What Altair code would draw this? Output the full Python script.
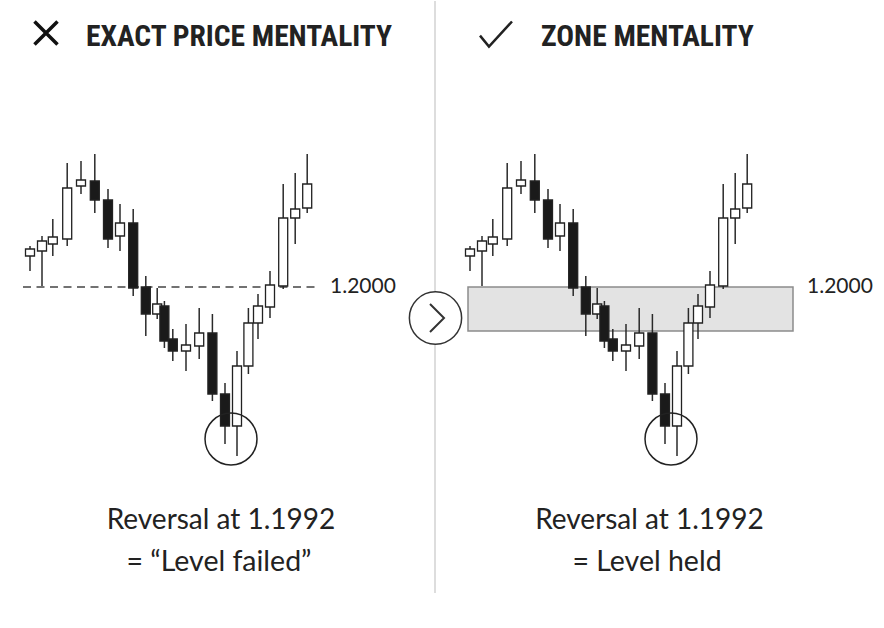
import altair as alt
import pandas as pd

# ---- data (same candles in both panels) ----
t_pos = [0, 1, 1.9, 3.1, 4.25, 5.4, 6.5, 7.5, 8.6, 9.65, 10.6, 11.2,
         11.9, 13.0, 14.1, 15.2, 16.25, 17.25, 18.2, 19.0, 20.0, 21.1, 22.1, 23.1]
open_p = [1.20031, 1.20036, 1.20043, 1.20048, 1.20101, 1.20106, 1.20087, 1.20051,
          1.20064, 1.20000, 1.19973, 1.19981, 1.19948, 1.19936, 1.19941, 1.19954,
          1.19893, 1.19861, 1.19921, 1.19964, 1.19980, 1.20001, 1.20069, 1.20079]
close_p = [1.20038, 1.20046, 1.20050, 1.20099, 1.20107, 1.20087, 1.20048, 1.20064,
           1.19999, 1.19973, 1.19983, 1.19946, 1.19936, 1.19942, 1.19954, 1.19893,
           1.19861, 1.19921, 1.19964, 1.19981, 1.20002, 1.20069, 1.20078, 1.20103]
high_p = [1.20041, 1.20051, 1.20068, 1.20124, 1.20126, 1.20133, 1.20098, 1.20083,
          1.20078, 1.20011, 1.19999, 1.19986, 1.19958, 1.19963, 1.19979, 1.19973,
          1.19904, 1.19936, 1.19979, 1.19993, 1.20016, 1.20103, 1.20114, 1.20133]
low_p = [1.20016, 1.20001, 1.20031, 1.20041, 1.20093, 1.20074, 1.20039, 1.20036,
         1.19991, 1.19951, 1.19968, 1.19939, 1.19926, 1.19916, 1.19928, 1.19886,
         1.19843, 1.19831, 1.19913, 1.19948, 1.19969, 1.19998, 1.20043, 1.20074]

level = 1.2000
zone_low = 1.19956
reversal_t = 16.75
reversal_price = 1.19848

titles = ["EXACT PRICE MENTALITY", "ZONE MENTALITY"]
notes_left = ["Reversal at 1.1992", "= \u201cLevel failed\u201d"]
notes_right = ["Reversal at 1.1992", "= Level held"]

candles = pd.DataFrame({"t": t_pos, "open": open_p, "close": close_p,
                        "high": high_p, "low": low_p})
candles["dir"] = ["up" if c >= o else "down" for o, c in zip(open_p, close_p)]

one = pd.DataFrame({"a": [0]})
H = 628
WL, WR = 435, 449
y_scale = alt.Scale(domain=[1.19658, 1.20286], nice=False, zero=False, padding=0)
xl_scale = alt.Scale(domain=[-2.5, 33.75], nice=False, zero=False, padding=0)
xr_scale = alt.Scale(domain=[-2.9167, 34.5], nice=False, zero=False, padding=0)

TITLE_FONT = "Roboto Condensed, Liberation Sans Narrow, Roboto, sans-serif"
BODY_FONT = "Lato, Open Sans, sans-serif"
INK = "#222222"


def candle_layers(xs):
    wick = alt.Chart(candles).mark_rule(color="#2a2a2a", strokeWidth=1.5).encode(
        x=alt.X("t:Q", scale=xs, axis=None),
        y=alt.Y("low:Q", scale=y_scale, axis=None),
        y2="high:Q",
    )
    body = alt.Chart(candles).mark_bar(size=9, stroke=INK, strokeWidth=1.3).encode(
        x=alt.X("t:Q", scale=xs, axis=None),
        y=alt.Y("open:Q", scale=y_scale, axis=None),
        y2="close:Q",
        fill=alt.Fill("dir:N", scale=alt.Scale(domain=["up", "down"],
                                                range=["#ffffff", "#1a1a1a"]),
                      legend=None),
    )
    ring = alt.Chart(pd.DataFrame({"t": [reversal_t], "p": [reversal_price]})).mark_point(
        shape="circle", size=2700, filled=False, stroke=INK, strokeWidth=1.5, opacity=1
    ).encode(
        x=alt.X("t:Q", scale=xs, axis=None),
        y=alt.Y("p:Q", scale=y_scale, axis=None),
    )
    return [wick, body, ring]


def text_at(txt, x, y, size, font, weight="normal", align="center", baseline="alphabetic"):
    return alt.Chart(one).mark_text(
        text=txt, font=font, fontSize=size, fontWeight=weight, color=INK,
        align=align, baseline=baseline,
    ).encode(x=alt.value(x), y=alt.value(y))


def level_label(x):
    return alt.Chart(pd.DataFrame({"p": [level]})).mark_text(
        font=BODY_FONT, fontSize=21, color=INK, align="left", baseline="middle"
    ).encode(
        x=alt.value(x),
        y=alt.Y("p:Q", scale=y_scale, axis=None),
        text=alt.Text("p:Q", format=".4f"),
    )


# ---------------- left panel ----------------
divider = alt.Chart(one).mark_rule(color="#d2d2d2", strokeWidth=1.5).encode(
    x=alt.value(435), y=alt.value(0), y2=alt.value(592))
dashed = alt.Chart(pd.DataFrame({"p": [level]})).mark_rule(
    color="#444444", strokeWidth=1.5, strokeDash=[8, 5.5]
).encode(x=alt.value(23), x2=alt.value(320),
         y=alt.Y("p:Q", scale=y_scale, axis=None))
cross = alt.Chart(one).mark_point(
    shape="M-1,-1L1,1M1,-1L-1,1", size=530, filled=False, stroke="#111111",
    strokeWidth=3.5, opacity=1).encode(x=alt.value(46), y=alt.value(32))
button = alt.Chart(one).mark_circle(
    size=2730, fill="#ffffff", stroke="#333333", strokeWidth=1.5, opacity=1
).encode(x=alt.value(435.5), y=alt.value(317))
chevron = alt.Chart(one).mark_point(
    shape="M-0.5,-1L0.5,0L-0.5,1", size=784, filled=False, stroke="#333333",
    strokeWidth=2, opacity=1).encode(x=alt.value(437), y=alt.value(317))

left = alt.layer(
    divider, dashed, level_label(330),
    *candle_layers(xl_scale),
    cross,
    text_at(titles[0], 86, 45, 29.5, TITLE_FONT, "bold", align="left"),
    text_at(notes_left[0], 221, 520, 28, BODY_FONT, baseline="middle"),
    text_at(notes_left[1], 219, 561, 28.5, BODY_FONT, baseline="middle"),
    button, chevron,
).properties(width=WL, height=H)

# ---------------- right panel ----------------
zone = alt.Chart(pd.DataFrame({"top": [level], "bot": [zone_low]})).mark_rect(
    fill="#e3e3e3", stroke="#8c8c8c", strokeWidth=1.5
).encode(x=alt.value(33), x2=alt.value(358),
         y=alt.Y("top:Q", scale=y_scale, axis=None), y2="bot:Q")
check = alt.Chart(one).mark_point(
    shape="M-1,0.1L-0.44,0.78L1,-0.78", size=1024, filled=False, stroke="#222222",
    strokeWidth=2.5, opacity=1).encode(x=alt.value(61), y=alt.value(33))

right = alt.layer(
    zone, level_label(372),
    *candle_layers(xr_scale),
    check,
    text_at(titles[1], 106, 45, 29.5, TITLE_FONT, "bold", align="left"),
    text_at(notes_right[0], 214.5, 520, 28, BODY_FONT, baseline="middle"),
    text_at(notes_right[1], 212, 561, 28.5, BODY_FONT, baseline="middle"),
).properties(width=WR, height=H)

chart = alt.hconcat(left, right, spacing=0, bounds="flush").properties(
    padding=0, background="#ffffff"
).configure_view(strokeWidth=0)

chart.save("out.html", embed_options={"renderer": "svg", "actions": False})
